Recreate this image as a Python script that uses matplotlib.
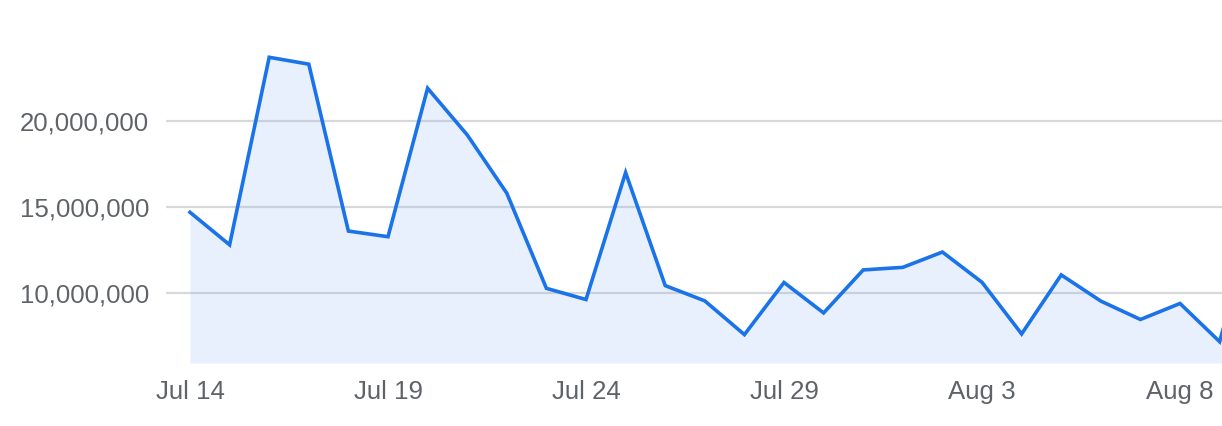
import matplotlib
matplotlib.use("Agg")
import matplotlib.pyplot as plt
import matplotlib.dates as mdates
from matplotlib.ticker import FuncFormatter
import pandas as pd

# daily values, Jul 14 .. Aug 10 (last point is clipped at the right edge)
dates = pd.date_range("2023-07-14", "2023-08-10", freq="D")
values = [
    14.69e6, 12.80e6, 23.70e6, 23.30e6, 13.60e6, 13.27e6, 21.90e6,
    19.19e6, 15.80e6, 10.27e6, 9.62e6, 17.00e6, 10.43e6, 9.54e6,
    7.58e6, 10.61e6, 8.84e6, 11.34e6, 11.49e6, 12.38e6, 10.62e6,
    7.62e6, 11.05e6, 9.53e6, 8.46e6, 9.39e6, 7.17e6, 15.5e6,
]
tick_dates = pd.date_range("2023-07-14", "2023-08-08", freq="5D")
y_ticks = [10e6, 15e6, 20e6]

LINE = "#1a73e8"
FILL = "#e8f0fd"
TEXT = "#5f6368"

plt.rcParams["font.family"] = ["Liberation Sans", "DejaVu Sans"]

fig = plt.figure(figsize=(12.22, 4.26), dpi=100)
ax = fig.add_axes([166 / 1222, 63 / 426, 1056 / 1222, 363 / 426])

ymin, ymax = 5.93e6, 27.03e6
x = mdates.date2num(dates)
ax.fill_between(x, values, ymin, color=FILL, lw=0, zorder=1)
for yt in y_ticks:
    ax.axhline(yt, color="#9aa0a6", alpha=0.4, lw=1.6, zorder=2)
ax.plot(x, values, color=LINE, lw=2.6, solid_joinstyle="miter", zorder=3)

x0 = mdates.date2num(dates[0])
ax.set_xlim(x0 - 0.606, x0 + 26.06)
ax.set_ylim(ymin, ymax)

ax.set_xticks(mdates.date2num(tick_dates))
ax.set_xticklabels([f"{d:%b} {d.day}" for d in tick_dates])
ax.set_yticks(y_ticks)
ax.yaxis.set_major_formatter(FuncFormatter(lambda v, p: f"{v:,.0f}"))

ax.tick_params(axis="both", length=0, labelsize=18.6, labelcolor=TEXT)
ax.tick_params(axis="y", pad=12)
ax.tick_params(axis="x", pad=12.5)
for s in ax.spines.values():
    s.set_visible(False)

fig.savefig("out.png", dpi=100)
